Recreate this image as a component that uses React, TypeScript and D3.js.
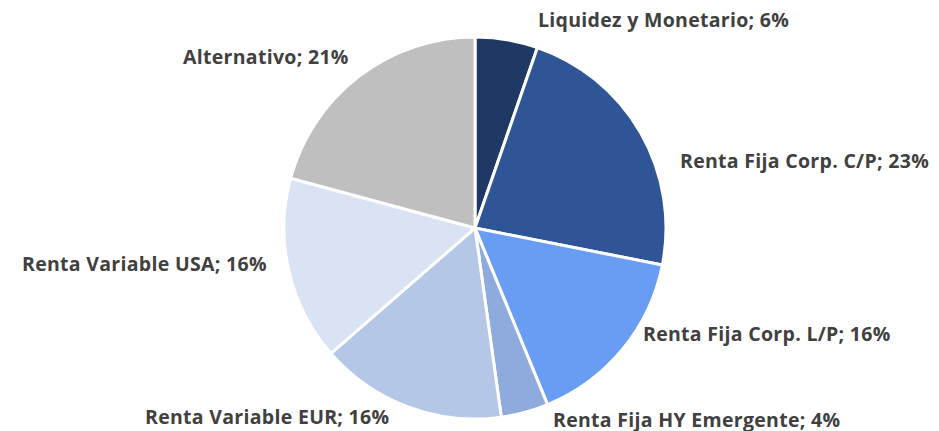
import { useEffect, useRef } from 'react';
import * as d3 from 'd3';

const categories = [
  'Liquidez y Monetario',
  'Renta Fija Corp. C/P',
  'Renta Fija Corp. L/P',
  'Renta Fija HY Emergente',
  'Renta Variable EUR',
  'Renta Variable USA',
  'Alternativo',
];
const values = [5.3, 22.8, 15.7, 4.0, 15.8, 15.6, 20.8];
const pctLabels = ['6%', '23%', '16%', '4%', '16%', '16%', '21%'];
const colors = ['#203864', '#2F5597', '#699CF3', '#8FAADC', '#B4C7E7', '#DAE3F3', '#BFBFBF'];

// label anchor (left edge, vertical middle) per slice, Excel-style outside labels
const labelLayout = [
  [538, 19],
  [680, 160],
  [643, 333],
  [553, 419],
  [145, 416],
  [22, 263],
  [183, 56],
];

export default function App() {
  const svgRef = useRef<SVGSVGElement>(null);

  useEffect(() => {
    const svg = d3.select(svgRef.current);
    svg.selectAll('*').remove();

    const W = 939, H = 431;
    const cx = 475, cy = 228, R = 191;

    svg.attr('width', W).attr('height', H).attr('viewBox', `0 0 ${W} ${H}`);

    const pie = d3.pie<number>().sort(null).value(d => d);
    const arc = d3.arc<d3.PieArcDatum<number>>().innerRadius(0).outerRadius(R);

    const g = svg.append('g').attr('transform', `translate(${cx},${cy})`);

    g.selectAll('path')
      .data(pie(values))
      .join('path')
      .attr('d', arc)
      .attr('fill', (_, i) => colors[i])
      .attr('stroke', '#fff')
      .attr('stroke-width', 3)
      .attr('stroke-linejoin', 'round');

    categories.forEach((c, i) => {
      svg.append('text')
        .attr('x', labelLayout[i][0])
        .attr('y', labelLayout[i][1])
        .attr('dominant-baseline', 'central')
        .attr('font-family', '"Open Sans", sans-serif')
        .attr('font-weight', 700)
        .attr('font-size', 19.5)
        .attr('letter-spacing', 0.3)
        .attr('fill', '#404040')
        .text(`${c}; ${pctLabels[i]}`);
    });
  }, []);

  return (
    <div style={{ position: 'absolute', left: 0, top: 0 }}>
      <svg ref={svgRef} style={{ display: 'block' }} />
    </div>
  );
}
